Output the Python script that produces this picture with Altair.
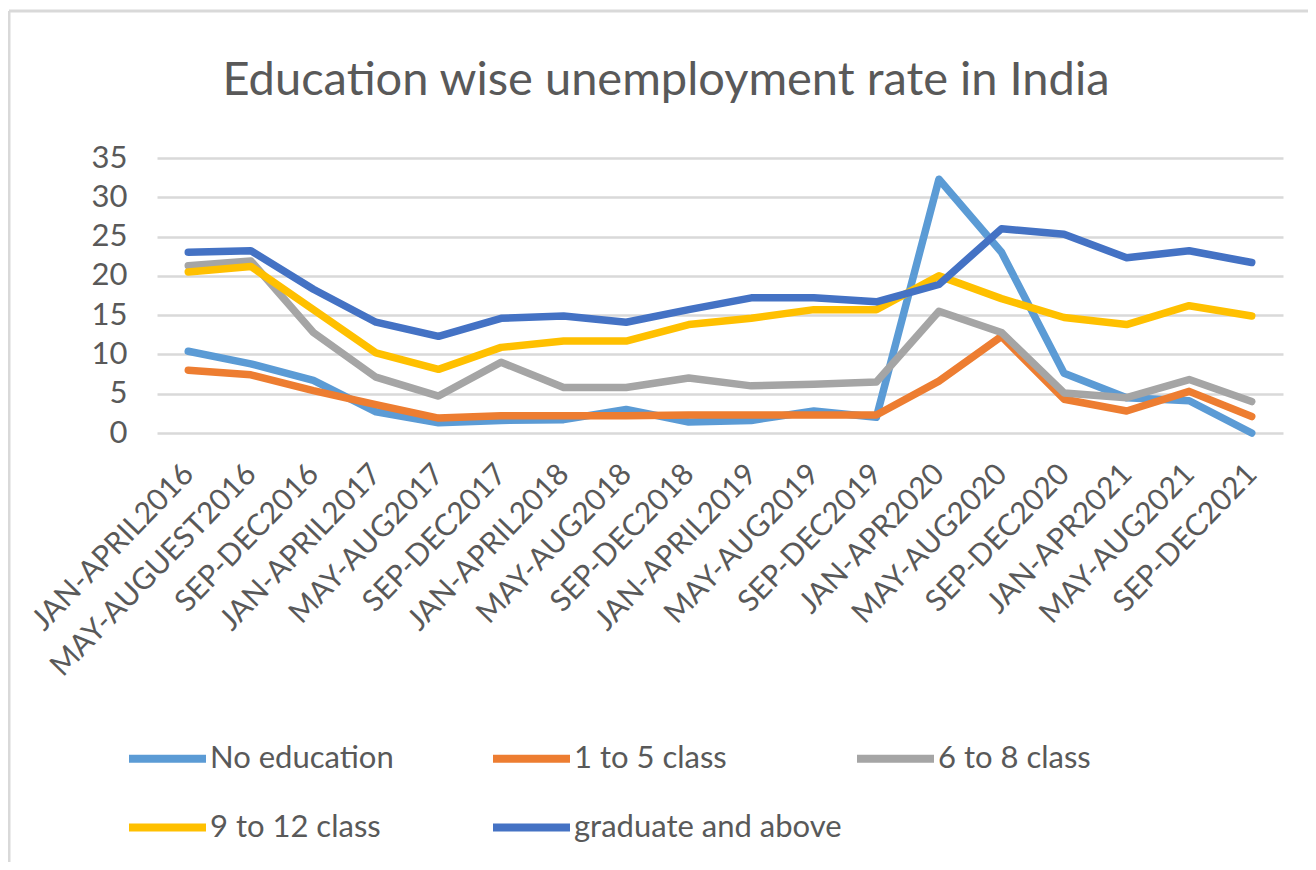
import altair as alt
import pandas as pd

periods = ["JAN-APRIL2016", "MAY-AUGUEST2016", "SEP-DEC2016", "JAN-APRIL2017", "MAY-AUG2017",
           "SEP-DEC2017", "JAN-APRIL2018", "MAY-AUG2018", "SEP-DEC2018", "JAN-APRIL2019",
           "MAY-AUG2019", "SEP-DEC2019", "JAN-APR2020", "MAY-AUG2020", "SEP-DEC2020",
           "JAN-APR2021", "MAY-AUG2021", "SEP-DEC2021"]

series_names = ["No education", "1 to 5 class", "6 to 8 class", "9 to 12 class", "graduate and above"]
series_colors = ["#5B9BD5", "#ED7D31", "#A5A5A5", "#FFC000", "#4472C4"]

no_education = [10.4, 8.8, 6.7, 2.7, 1.3, 1.6, 1.7, 3.0, 1.4, 1.6, 2.8, 2.0, 32.3, 23.0, 7.6, 4.5, 4.1, 0.0]
class_1_5 = [8.0, 7.4, 5.4, 3.6, 1.9, 2.2, 2.2, 2.2, 2.3, 2.3, 2.3, 2.3, 6.6, 12.3, 4.3, 2.8, 5.3, 2.1]
class_6_8 = [21.3, 21.9, 12.8, 7.1, 4.7, 9.0, 5.8, 5.8, 7.0, 6.0, 6.2, 6.5, 15.5, 12.8, 5.1, 4.5, 6.8, 4.0]
class_9_12 = [20.5, 21.2, 15.7, 10.2, 8.1, 10.9, 11.7, 11.7, 13.8, 14.6, 15.7, 15.7, 20.0, 17.1, 14.7, 13.8, 16.2, 14.9]
graduate = [23.0, 23.2, 18.3, 14.1, 12.3, 14.6, 14.9, 14.1, 15.7, 17.2, 17.2, 16.7, 18.9, 26.0, 25.3, 22.3, 23.2, 21.7]

y_ticks = [0, 5, 10, 15, 20, 25, 30, 35]

rows = []
for name, vals in zip(series_names, [no_education, class_1_5, class_6_8, class_9_12, graduate]):
    for p, v in zip(periods, vals):
        rows.append({"period": p, "series": name, "rate": v})
df = pd.DataFrame(rows)

FONT = "Lato"
TXT = "#595959"
W, H = 1126, 275

lines = alt.Chart(df).mark_line(strokeWidth=7.5, strokeCap="round", strokeJoin="round").encode(
    x=alt.X("period:N", sort=periods,
            scale=alt.Scale(type="point", padding=0.5),
            axis=alt.Axis(title=None, labelAngle=-46, labelAlign="right", labelBaseline="middle",
                          labelFontSize=30, labelColor=TXT, labelFont=FONT, labelPadding=36,
                          ticks=False, domain=False, grid=False, labelOverlap=False, labelLimit=0)),
    y=alt.Y("rate:Q", scale=alt.Scale(domain=[0, 35], nice=False),
            axis=alt.Axis(title=None, values=y_ticks, ticks=False, domain=False,
                          gridColor="#D9D9D9", gridWidth=2.5, labelFontSize=31, labelColor=TXT,
                          labelFont=FONT, labelPadding=30)),
    color=alt.Color("series:N", sort=series_names,
                    scale=alt.Scale(domain=series_names, range=series_colors),
                    legend=alt.Legend(title=None, orient="none", legendX=-32, legendY=558,
                                      columns=3, direction="horizontal", symbolType="stroke",
                                      symbolSize=5929, symbolStrokeWidth=8, labelFontSize=31,
                                      labelColor=TXT, labelFont=FONT, labelOffset=0,
                                      columnPadding=-1, rowPadding=10, gridAlign="all",
                                      labelLimit=0)),
)

frame_df = pd.DataFrame({"k": [0]})
left_border = alt.Chart(frame_df).mark_rule(color="#D9D9D9", strokeWidth=3).encode(
    x=alt.value(-148), y=alt.value(-147), y2=alt.value(710))
top_border = alt.Chart(frame_df).mark_rule(color="#D9D9D9", strokeWidth=3).encode(
    x=alt.value(-148), x2=alt.value(1160), y=alt.value(-147))

chart = alt.layer(left_border, top_border, lines).properties(
    width=W, height=H,
    title=alt.Title("Education wise unemployment rate in India", fontSize=47, font=FONT,
                    color=TXT, fontWeight="normal", anchor="middle", offset=38, dy=133, dx=-54),
    padding={"left": 149, "top": 150, "right": 25, "bottom": 429},
    autosize=alt.AutoSizeParams(type="none"),
    background="white",
).configure_view(stroke=None)

chart.save("out.html", embed_options={"renderer": "svg", "actions": False})
